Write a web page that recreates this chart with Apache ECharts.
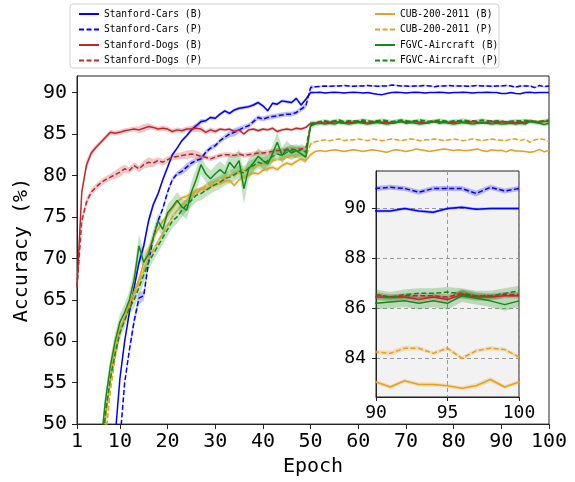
<!DOCTYPE html>
<html>
<head>
<meta charset="utf-8">
<script src="https://cdn.jsdelivr.net/npm/echarts@6/dist/echarts.min.js"></script>
<style>
  html, body { margin: 0; background: #fff; }
  #chart { width: 575px; height: 482px; }
</style>
</head>
<body>
<div id="chart"></div>
<script>
const epochs = Array.from({ length: 100 }, (_, i) => i + 1)
const xTicks = [1, 10, 20, 30, 40, 50, 60, 70, 80, 90, 100]
const yTicks = [50, 55, 60, 65, 70, 75, 80, 85, 90]
const insetXTicks = [90, 95, 100]
const insetYTicks = [84, 86, 88, 90]

const names = [
  'Stanford-Cars (B)', 'Stanford-Cars (P)',
  'Stanford-Dogs (B)', 'Stanford-Dogs (P)',
  'CUB-200-2011 (B)', 'CUB-200-2011 (P)',
  'FGVC-Aircraft (B)', 'FGVC-Aircraft (P)',
]

// accuracy per epoch (1..100)
const carsB = [
  10, 14, 18, 22, 26, 30, 35, 41, 48.5, 55.5,
  60, 63.5, 66.5, 69.5, 71.5, 74.5, 76.5, 77.8, 79.5, 81,
  82.5, 83.3, 84.2, 84.8, 85.5, 86, 86.5, 86.6, 87, 86.9,
  87.4, 87.8, 87.5, 87.9, 88.1, 88.2, 88.3, 88.5, 88.8, 88.4,
  87.8, 88.7, 88.6, 89, 88.9, 88.8, 89.3, 88.5, 89.2, 90,
  90, 90.05, 89.95, 90, 90.05, 90, 89.95, 90, 90.05, 90,
  89.95, 90, 89.9, 89.8, 89.75, 89.9, 90, 90.05, 90, 89.95,
  90, 90.05, 90, 89.95, 90, 90, 90.05, 90, 89.95, 90,
  90, 90.05, 90, 89.95, 90, 90, 90.05, 90, 90, 89.9,
  89.9, 90, 89.9, 89.85, 90, 90.05, 89.97, 90, 90, 90,
]
const carsP = [
  5, 9, 13, 17, 21, 25, 29, 34, 40, 48,
  55, 59, 62.5, 65.2, 65.5, 69.5, 72.5, 74.5, 76, 78,
  79.5, 80.2, 80.5, 81, 81.5, 81.8, 82, 82.8, 83.3, 83.6,
  84.2, 84.6, 85, 85.2, 85.5, 85.8, 86, 86.5, 87, 86.8,
  87, 87.1, 87.2, 87.3, 87.4, 87.4, 87.6, 88, 88.4, 90.6,
  90.7, 90.75, 90.8, 90.75, 90.8, 90.8, 90.85, 90.8, 90.75, 90.8,
  90.8, 90.85, 90.8, 90.75, 90.8, 90.8, 90.9, 90.85, 90.8, 90.8,
  90.75, 90.8, 90.8, 90.85, 90.8, 90.7, 90.8, 90.8, 90.85, 90.8,
  90.8, 90.8, 90.75, 90.8, 90.85, 90.8, 90.8, 90.75, 90.8, 90.8,
  90.85, 90.8, 90.65, 90.8, 90.8, 90.8, 90.6, 90.85, 90.7, 90.8,
]
const dogsB = [
  66.5, 78, 81.3, 82.7, 83.4, 84, 84.6, 85.2, 85.1, 85.2,
  85.4, 85.5, 85.6, 85.5, 85.7, 85.9, 85.8, 85.6, 85.7, 85.6,
  85.3, 85.5, 85.4, 85.6, 85.6, 85.7, 85.6, 85.2, 85.5, 85.3,
  85.6, 85.5, 85.6, 85.3, 85.5, 85, 85.5, 85.6, 85.4, 85.6,
  85.5, 85.7, 85.3, 85.5, 85.6, 85.5, 85.7, 85.6, 85.8, 86.3,
  86.3, 86.4, 86.3, 86.4, 86.5, 86.4, 86.3, 86.4, 86.4, 86.5,
  86.4, 86.3, 86.4, 86.5, 86.4, 86.4, 86.3, 86.4, 86.5, 86.4,
  86.4, 86.5, 86.4, 86.3, 86.4, 86.5, 86.4, 86.5, 86.4, 86.4,
  86.5, 86.4, 86.4, 86.5, 86.4, 86.3, 86.4, 86.5, 86.4, 86.45,
  86.45, 86.45, 86.35, 86.45, 86.35, 86.55, 86.45, 86.45, 86.5, 86.5,
]
const dogsP = [
  66.5, 74.5, 76.8, 78, 78.6, 79.1, 79.5, 79.8, 80.1, 80.4,
  80.8, 80.6, 81.2, 80.8, 81.3, 81.6, 81.5, 81.8, 81.6, 81.9,
  82.2, 82.3, 82.4, 82.5, 82.6, 82.5, 82.3, 82.2, 82, 82.2,
  82.4, 82.5, 82.5, 82.4, 82.6, 82.4, 82.5, 82.6, 82.7, 82.7,
  82.8, 82.9, 83, 83, 83.1, 83.2, 83.1, 83.2, 83.3, 86.1,
  86.3, 86.4, 86.5, 86.4, 86.5, 86.5, 86.4, 86.5, 86.6, 86.5,
  86.5, 86.4, 86.5, 86.6, 86.5, 86.5, 86.4, 86.5, 86.6, 86.5,
  86.5, 86.6, 86.5, 86.4, 86.5, 86.6, 86.5, 86.5, 86.4, 86.5,
  86.6, 86.5, 86.5, 86.6, 86.5, 86.4, 86.5, 86.6, 86.5, 86.55,
  86.45, 86.5, 86.5, 86.5, 86.45, 86.6, 86.5, 86.5, 86.55, 86.55,
]
const cubB = [
  15, 20, 25, 30, 36, 43, 50.5, 55.5, 59, 61.5,
  62.8, 64.5, 66, 67.5, 69.5, 71, 72.5, 73.5, 74.5, 75.2,
  76, 76.8, 77.3, 77.5, 77.8, 78.2, 78.4, 78.3, 78.6, 78.9,
  79, 79.3, 79.4, 78.8, 79.5, 79.8, 80, 80.3, 80.2, 80.6,
  80.8, 81, 80.7, 81.2, 81.5, 81.3, 81.7, 82, 81.8, 82.5,
  82.9, 83, 82.9, 83, 83.1, 83, 82.9, 83, 83.1, 83,
  82.9, 83, 83.1, 83, 82.9, 82.8, 83, 83.1, 83, 82.9,
  83, 83.2, 83.1, 83, 82.9, 83, 83.1, 83.2, 83.1, 83,
  83.1, 83, 83, 83.1, 83.2, 83, 82.9, 83.1, 83, 83.05,
  82.85, 83.1, 82.95, 82.95, 82.9, 82.8, 82.9, 83.15, 82.85, 83.05,
]
const cubP = [
  12, 17, 22, 27, 33, 40, 48.5, 54, 58, 61,
  62.5, 64, 65.5, 67, 68.5, 70, 71, 72, 73, 74,
  75, 75.8, 76.5, 77, 77.4, 77.8, 78.3, 78.7, 79, 79.2,
  79.5, 79.8, 80, 80.2, 80.4, 80.6, 80.9, 81, 81.2, 81.4,
  81.5, 81.8, 81.9, 82, 82.2, 82.3, 82.4, 82.5, 82.3, 83.8,
  84.1, 84.2, 84.3, 84.2, 84.3, 84.4, 84.2, 84.3, 84.3, 84.4,
  84.3, 84.2, 84.4, 84.3, 84.2, 84.3, 84.4, 84.3, 84.2, 84.3,
  84.4, 84.3, 84.2, 84.3, 84.3, 84.4, 84.3, 84.2, 84.3, 84.4,
  84.3, 84.2, 84.3, 84.4, 84.3, 84.2, 84.3, 84.4, 84.3, 84.25,
  84.2, 84.4, 84.4, 84.2, 84.4, 84, 84.3, 84.4, 84.35, 84.05,
]
const fgvcB = [
  18, 24, 30, 36, 42, 47.5, 53, 57, 60, 62.3,
  63.5, 65, 67.5, 71.5, 69.5, 70.5, 72.5, 74.5, 73.5, 75.5,
  76.2, 77, 76.2, 75.8, 78, 79.5, 81.3, 80.2, 79.6, 80.2,
  80.7, 80.2, 81.6, 80.9, 81.8, 78.4, 80.8, 81.5, 82.3, 81.8,
  81.4, 82.6, 84, 82.4, 83.2, 82.7, 83, 82.6, 82.2, 86,
  86.2, 86.3, 86.2, 86.3, 86.2, 86.4, 86.3, 86.2, 86.3, 86.4,
  86.3, 86.2, 86.3, 86.4, 86.3, 86.2, 86.3, 86.4, 86.5, 86.3,
  86.4, 86.3, 86.2, 86.3, 86.4, 86.5, 86.3, 86.4, 86.3, 86.2,
  86.3, 86.4, 86.3, 86.2, 86.3, 86.4, 86.3, 86.2, 86.3, 86.2,
  86.25, 86.3, 86.2, 86.3, 86.2, 86.5, 86.4, 86.3, 86.15, 86.3,
]
const fgvcP = [
  15, 21, 27, 33, 39, 45.5, 51.5, 55.5, 58.5, 61,
  62.5, 64, 65, 66.5, 68, 69.5, 70.5, 71.5, 72.5, 73.5,
  74.5, 75, 75.8, 76.5, 77, 77.6, 77.8, 78.2, 78.6, 78.9,
  79.2, 79.6, 79.8, 80.1, 80.5, 80.3, 80.9, 81.2, 81.6, 81.4,
  81.8, 82.3, 82.6, 82.4, 82.8, 83, 82.8, 83.1, 82.8, 86.2,
  86.4, 86.5, 86.6, 86.5, 86.6, 86.7, 86.5, 86.6, 86.5, 86.6,
  86.7, 86.6, 86.5, 86.6, 86.7, 86.6, 86.5, 86.6, 86.7, 86.6,
  86.5, 86.6, 86.7, 86.6, 86.5, 86.6, 86.7, 86.6, 86.5, 86.6,
  86.6, 86.7, 86.6, 86.5, 86.6, 86.7, 86.6, 86.5, 86.6, 86.55,
  86.45, 86.55, 86.6, 86.6, 86.65, 86.6, 86.5, 86.5, 86.6, 86.7,
]

// half width of the shaded band (run-to-run spread)
const carsBBand = [
  .2, .2, .2, .2, .2, .2, .2, .2, .2, .2,
  .3, .3, .4, .5, .6, .5, .4, .3, .3, .3,
  .2, .2, .2, .2, .3, .3, .3, .2, .2, .2,
  .2, .2, .2, .2, .2, .2, .2, .2, .2, .2,
  .2, .2, .2, .2, .2, .2, .2, .2, .2, .2,
  .06, .06, .06, .06, .06, .06, .06, .06, .06, .06,
  .06, .06, .06, .06, .06, .06, .06, .06, .06, .06,
  .06, .06, .06, .06, .06, .06, .06, .06, .06, .06,
  .06, .06, .06, .06, .06, .06, .06, .06, .06, .06,
  .06, .06, .06, .06, .06, .06, .06, .06, .06, .06,
]
const carsPBand = [
  .2, .2, .2, .2, .2, .2, .2, .2, .2, .2,
  .3, .4, .6, .7, .6, .4, .3, .3, .3, .3,
  .3, .3, .4, .5, .4, .3, .3, .3, .3, .3,
  .3, .3, .4, .5, .4, .3, .3, .3, .3, .3,
  .3, .3, .3, .3, .3, .3, .3, .3, .3, .3,
  .1, .1, .1, .1, .1, .1, .1, .1, .1, .1,
  .1, .1, .1, .1, .1, .1, .1, .1, .1, .1,
  .1, .1, .1, .1, .1, .1, .1, .1, .1, .1,
  .1, .1, .1, .1, .1, .1, .1, .1, .1, .1,
  .1, .1, .1, .1, .1, .1, .12, .1, .1, .1,
]
const dogsBBand = [
  .3, .5, .6, .4, .3, .3, .3, .3, .3, .3,
  .3, .3, .3, .4, .5, .4, .3, .3, .3, .3,
  .3, .3, .3, .3, .4, .5, .4, .3, .3, .3,
  .2, .2, .2, .2, .2, .2, .2, .2, .2, .2,
  .2, .2, .2, .2, .2, .2, .2, .2, .2, .2,
  .1, .1, .1, .1, .1, .1, .1, .1, .1, .1,
  .1, .1, .1, .1, .1, .1, .1, .1, .1, .1,
  .1, .1, .1, .1, .1, .1, .1, .1, .1, .1,
  .1, .1, .1, .1, .1, .1, .1, .1, .1, .1,
  .1, .1, .1, .1, .1, .15, .1, .1, .1, .1,
]
const dogsPBand = [
  .3, .5, .5, .4, .4, .4, .4, .4, .5, .6,
  .5, .4, .4, .4, .5, .6, .5, .4, .4, .4,
  .4, .4, .4, .5, .5, .5, .4, .3, .3, .3,
  .3, .3, .3, .3, .3, .3, .3, .3, .3, .3,
  .3, .3, .3, .3, .3, .3, .3, .3, .3, .3,
  .1, .1, .1, .1, .1, .1, .1, .1, .1, .1,
  .1, .1, .1, .1, .1, .1, .1, .1, .1, .1,
  .1, .1, .1, .1, .1, .1, .1, .1, .1, .1,
  .1, .1, .1, .1, .1, .1, .1, .1, .1, .1,
  .1, .1, .1, .1, .1, .15, .1, .1, .1, .1,
]
const cubBBand = [
  .25, .25, .25, .25, .25, .25, .25, .25, .25, .25,
  .25, .25, .25, .25, .25, .25, .25, .25, .25, .25,
  .25, .25, .25, .25, .25, .25, .25, .25, .25, .25,
  .25, .25, .25, .25, .25, .25, .25, .25, .25, .25,
  .25, .25, .25, .25, .25, .25, .25, .25, .25, .25,
  .08, .08, .08, .08, .08, .08, .08, .08, .08, .08,
  .08, .08, .08, .08, .08, .08, .08, .08, .08, .08,
  .08, .08, .08, .08, .08, .08, .08, .08, .08, .08,
  .08, .08, .08, .08, .08, .08, .08, .08, .08, .08,
  .08, .08, .08, .08, .08, .08, .1, .1, .08, .08,
]
const cubPBand = [
  .25, .25, .25, .25, .25, .25, .25, .25, .25, .25,
  .25, .25, .25, .25, .25, .25, .25, .25, .25, .25,
  .25, .25, .25, .25, .25, .25, .25, .25, .25, .25,
  .25, .25, .25, .25, .25, .25, .25, .25, .25, .25,
  .25, .25, .25, .25, .25, .25, .25, .25, .25, .25,
  .08, .08, .08, .08, .08, .08, .08, .08, .08, .08,
  .08, .08, .08, .08, .08, .08, .08, .08, .08, .08,
  .08, .08, .08, .08, .08, .08, .08, .08, .08, .08,
  .08, .08, .08, .08, .08, .08, .08, .08, .08, .08,
  .1, .1, .08, .08, .08, .08, .08, .08, .08, .08,
]
const fgvcBBand = [
  .6, .7, .8, .9, 1, 1, 1, 1, 1, 1,
  1, 1.1, 1.2, 1.4, 1.2, 1, 1, 1, 1, 1,
  1, 1, 1, 1.1, 1.2, 1.3, 1.2, 1, 1, 1,
  1, 1, 1, 1.2, 1.4, 1.8, 1.3, 1, 1, 1,
  1, 1, 1.2, 1, 1, .9, .8, .8, .8, .4,
  .25, .25, .25, .25, .25, .25, .25, .25, .25, .25,
  .25, .25, .25, .25, .25, .25, .25, .25, .25, .25,
  .25, .25, .25, .25, .25, .25, .25, .25, .25, .25,
  .25, .25, .25, .25, .25, .25, .25, .25, .25, .25,
  .25, .25, .25, .25, .25, .25, .25, .25, .25, .25,
]
const fgvcPBand = [
  .5, .6, .7, .8, .8, .8, .8, .8, .8, .8,
  .8, .8, .9, 1, 1, .9, .8, .8, .8, .8,
  .8, .8, .8, .8, .8, .8, .8, .8, .8, .8,
  .8, .8, .8, .8, .8, .8, .8, .8, .8, .8,
  .7, .7, .7, .7, .7, .7, .7, .7, .7, .4,
  .2, .2, .2, .2, .2, .2, .2, .2, .2, .2,
  .2, .2, .2, .2, .2, .2, .2, .2, .2, .2,
  .2, .2, .2, .2, .2, .2, .2, .2, .2, .2,
  .2, .2, .2, .2, .2, .2, .2, .2, .2, .2,
  .2, .2, .2, .2, .2, .2, .2, .2, .2, .2,
]

const allValues = [carsB, carsP, dogsB, dogsP, cubB, cubP, fgvcB, fgvcP]
const allBands = [carsBBand, carsPBand, dogsBBand, dogsPBand, cubBBand, cubPBand, fgvcBBand, fgvcPBand]
const colors = ['#0000ff', '#0000ff', '#c0272d', '#c0272d', '#e6a11f', '#e6a11f', '#138a13', '#138a13']
const dashed = [false, true, false, true, false, true, false, true]

const FONT = 'DejaVu Sans Mono'

// shaded band: one polygon per series, clipped to its grid
function bandSeries(g, k) {
  const vals = allValues[k]
  const band = allBands[k]
  return {
    type: 'custom',
    xAxisIndex: g,
    yAxisIndex: g,
    silent: true,
    z: 1,
    data: [[95, 86]],
    renderItem(params, api) {
      const upper = epochs.map((e, i) => api.coord([e, vals[i] + band[i]]))
      const lower = epochs.map((e, i) => api.coord([e, vals[i] - band[i]])).reverse()
      const cs = params.coordSys
      return {
        type: 'polygon',
        shape: { points: upper.concat(lower) },
        style: { fill: colors[k], opacity: 0.25 },
        clipPath: { type: 'rect', shape: { x: cs.x, y: cs.y, width: cs.width, height: cs.height } },
      }
    },
  }
}

function buildSeries(g) {
  const out = allValues.map((_, k) => bandSeries(g, k))
  allValues.forEach((vals, k) => {
    out.push({
      name: names[k],
      type: 'line',
      xAxisIndex: g,
      yAxisIndex: g,
      symbol: 'none',
      z: 3,
      lineStyle: { color: colors[k], width: 1.5, type: dashed[k] ? [5, 2.5] : 'solid' },
      itemStyle: { color: colors[k] },
      data: epochs.map((e, i) => [e, vals[i]]),
    })
  })
  return out
}

const axisText = { fontFamily: FONT, color: '#000' }
const legendBase = {
  orient: 'vertical',
  top: 4,
  itemWidth: 20,
  itemHeight: 10,
  itemGap: 5.5,
  selectedMode: false,
  itemStyle: { opacity: 0 },
  textStyle: { fontFamily: FONT, fontSize: 9.6, color: '#000' },
}

const option = {
  animation: false,
  backgroundColor: '#fff',
  graphic: [{
    type: 'rect',
    shape: { x: 70, y: 4, width: 429, height: 64, r: 3 },
    style: { fill: '#fff', stroke: '#d0d0d0', lineWidth: 1 },
    z: -1,
  }],
  legend: [
    { ...legendBase, left: 73, data: names.slice(0, 4) },
    { ...legendBase, left: 369, data: names.slice(4) },
  ],
  grid: [
    { left: 77, top: 76, width: 472, height: 352, show: true, borderColor: '#222', borderWidth: 1 },
    { left: 376, top: 171, width: 143, height: 226, show: true, borderColor: '#222', borderWidth: 1, backgroundColor: '#f2f2f2' },
  ],
  xAxis: [
    {
      type: 'value', gridIndex: 0, min: 1, max: 100,
      axisLine: { lineStyle: { color: '#222' } },
      axisTick: { show: true, length: 5, customValues: xTicks, lineStyle: { color: '#222' } },
      axisLabel: { ...axisText, fontSize: 20, margin: 8, customValues: xTicks },
      splitLine: { show: false },
      name: 'Epoch', nameLocation: 'middle', nameGap: 32,
      nameTextStyle: { ...axisText, fontSize: 20 },
    },
    {
      type: 'value', gridIndex: 1, min: 90, max: 100,
      axisLine: { lineStyle: { color: '#222' } },
      axisTick: { show: true, length: 4, customValues: insetXTicks, lineStyle: { color: '#222' } },
      axisLabel: { ...axisText, fontSize: 18, margin: 7, customValues: insetXTicks },
      splitLine: { show: true, lineStyle: { color: '#999', type: [4, 3], width: 1 } },
    },
  ],
  yAxis: [
    {
      type: 'value', gridIndex: 0, min: 50, max: 92,
      axisLine: { show: true, lineStyle: { color: '#222' } },
      axisTick: { show: true, length: 5, customValues: yTicks, lineStyle: { color: '#222' } },
      axisLabel: { ...axisText, fontSize: 20, margin: 10, customValues: yTicks },
      splitLine: { show: false },
      name: 'Accuracy (%)', nameLocation: 'middle', nameGap: 37,
      nameTextStyle: { ...axisText, fontSize: 20 },
    },
    {
      type: 'value', gridIndex: 1, min: 82.45, max: 91.5,
      axisLine: { show: true, lineStyle: { color: '#222' } },
      axisTick: { show: true, length: 4, customValues: insetYTicks, lineStyle: { color: '#222' } },
      axisLabel: { ...axisText, fontSize: 18, margin: 10, customValues: insetYTicks },
      splitLine: { show: true, lineStyle: { color: '#999', type: [4, 3], width: 1 } },
    },
  ],
  series: [...buildSeries(0), ...buildSeries(1)],
}

const myChart = echarts.init(document.getElementById('chart'))
myChart.setOption(option)
</script>
</body>
</html>
